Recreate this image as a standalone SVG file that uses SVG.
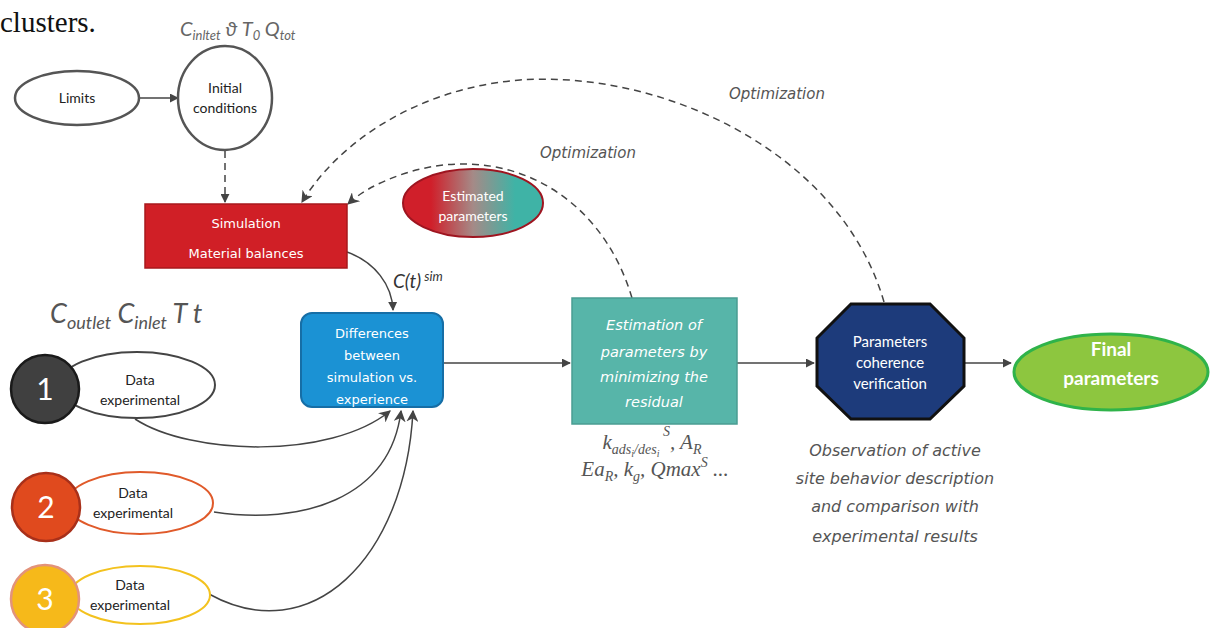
<svg xmlns="http://www.w3.org/2000/svg" width="1210" height="628" viewBox="0 0 1210 628">
  <defs>
    <marker id="arr" viewBox="0 0 10 10" refX="9" refY="5" markerWidth="9" markerHeight="9" markerUnits="userSpaceOnUse" orient="auto">
      <path d="M0,0 L10,5 L0,10 Z" fill="#444"/>
    </marker>
    <marker id="arrBig" viewBox="0 0 10 10" refX="9" refY="5" markerWidth="12" markerHeight="12" markerUnits="userSpaceOnUse" orient="auto">
      <path d="M0,0 L10,5 L0,10 L3,5 Z" fill="#444"/>
    </marker>
    <linearGradient id="estGrad" x1="0" y1="0" x2="1" y2="0">
      <stop offset="0.2" stop-color="#d01f2a"/>
      <stop offset="0.5" stop-color="#a58a87"/>
      <stop offset="0.8" stop-color="#3fb3a6"/>
    </linearGradient>
    <style>
      .lbl { font-family: "Lato", "Liberation Sans", sans-serif; fill: #222; text-anchor: middle; }
      .gothic { font-family: "DejaVu Sans", "Liberation Sans", sans-serif; text-anchor: middle; }
      .start { text-anchor: start; }
      .wt { fill: #fff; }
      .ital { font-style: italic; fill: #555; }
      .math { font-family: "Liberation Serif", serif; font-style: italic; fill: #555; text-anchor: middle; }
      .solid { fill: none; stroke: #444; stroke-width: 1.5; }
      .dash { fill: none; stroke: #444; stroke-width: 1.5; stroke-dasharray: 7 5; }
      .num { font-family: "Lato", "Liberation Sans", sans-serif; fill: #fff; font-size: 30px; text-anchor: middle; }
    </style>
  </defs>
  <rect width="1210" height="628" fill="#fff"/>

  <!-- stray body text above the figure -->
  <text x="0" y="32" font-family="Liberation Serif, serif" font-size="29" fill="#111">clusters.</text>

  <!-- variable annotations -->
  <text x="180" y="36" font-family="Lato, Liberation Sans, sans-serif" font-style="italic" font-size="20" fill="#666">C<tspan font-size="13" dy="4">inltet</tspan><tspan dy="-4"> ϑ T</tspan><tspan font-size="13" dy="4">0</tspan><tspan dy="-4"> Q</tspan><tspan font-size="13" dy="4">tot</tspan></text>
  <text x="50" y="323" font-family="Lato, Liberation Sans, sans-serif" font-style="italic" font-size="27" fill="#555">C<tspan font-size="18" dy="6">outlet</tspan><tspan dy="-6"> C</tspan><tspan font-size="18" dy="6">inlet</tspan><tspan dy="-6"> T t</tspan></text>

  <!-- connectors -->
  <g id="connectors">
    <line class="solid" x1="139" y1="98" x2="178" y2="98" marker-end="url(#arr)"/>
    <line class="dash" x1="225" y1="151" x2="225" y2="202" marker-end="url(#arr)"/>
    <path class="solid" d="M347,252 C375,262 392,285 393,310" marker-end="url(#arr)"/>
    <line class="solid" x1="443" y1="363" x2="570" y2="363" marker-end="url(#arr)"/>
    <line class="solid" x1="737" y1="363" x2="814" y2="363" marker-end="url(#arr)"/>
    <line class="solid" x1="965" y1="363" x2="1011" y2="363" marker-end="url(#arr)"/>
    <!-- optimization feedback loops -->
    <path class="dash" d="M632,298 C600,190 500,140 400,175 C375,184 360,193 348,204" marker-end="url(#arrBig)"/>
    <path class="dash" d="M884,302 C840,150 660,70 520,80 C420,88 340,140 302,202" marker-end="url(#arrBig)"/>
    <!-- experimental data into the difference block -->
    <path class="solid" d="M135,419 C190,455 330,460 390,411" marker-end="url(#arrBig)"/>
    <path class="solid" d="M214,512 C300,525 390,500 401,411" marker-end="url(#arrBig)"/>
    <path class="solid" d="M209,594 C310,650 405,560 413,411" marker-end="url(#arrBig)"/>
  </g>

  <text x="540" y="158" class="gothic ital start" font-size="15">Optimization</text>
  <text x="729" y="99" class="gothic ital start" font-size="15">Optimization</text>
  <text x="393" y="288" font-family="Lato, Liberation Sans, sans-serif" font-style="italic" font-size="19" fill="#333">C(t)<tspan font-size="13" dy="-7"> sim</tspan></text>

  <g id="limits">
    <ellipse cx="77" cy="98" rx="62" ry="27" fill="#fff" stroke="#555" stroke-width="2.5"/>
    <text x="77" y="103" class="lbl" font-size="14">Limits</text>
  </g>

  <g id="initial-conditions">
    <ellipse cx="225" cy="98" rx="47" ry="52" fill="#fff" stroke="#555" stroke-width="2.5"/>
    <text x="225" y="93" class="lbl" font-size="14">Initial</text>
    <text x="225" y="113" class="lbl" font-size="14">conditions</text>
  </g>

  <g id="simulation">
    <rect x="145" y="204" width="202" height="64" fill="#d01f26" stroke="#a8181d" stroke-width="1.5"/>
    <text x="246" y="228" class="gothic wt" font-size="13">Simulation</text>
    <text x="246" y="258" class="gothic wt" font-size="13">Material balances</text>
  </g>

  <g id="estimated-parameters">
    <ellipse cx="473" cy="203" rx="70" ry="34" fill="url(#estGrad)" stroke="#9e1520" stroke-width="2"/>
    <text x="473" y="201" class="lbl wt" font-size="14">Estimated</text>
    <text x="473" y="221" class="lbl wt" font-size="14">parameters</text>
  </g>

  <g id="differences">
    <rect x="301" y="313" width="142" height="94" rx="11" fill="#1b92d4" stroke="#166ea6" stroke-width="2"/>
    <text x="372" y="338" class="gothic wt" font-size="13">Differences</text>
    <text x="372" y="360" class="gothic wt" font-size="13">between</text>
    <text x="372" y="382" class="gothic wt" font-size="13">simulation vs.</text>
    <text x="372" y="404" class="gothic wt" font-size="13">experience</text>
  </g>

  <g id="estimation">
    <rect x="572" y="298" width="165" height="126" fill="#57b5a9" stroke="#4a9d92" stroke-width="1.5"/>
    <text x="654" y="330" class="gothic wt" font-size="14.5" font-style="italic">Estimation of</text>
    <text x="654" y="357" class="gothic wt" font-size="14.5" font-style="italic">parameters by</text>
    <text x="654" y="382" class="gothic wt" font-size="14.5" font-style="italic">minimizing  the</text>
    <text x="654" y="407" class="gothic wt" font-size="14.5" font-style="italic">residual</text>
  </g>

  <text x="652" y="449" class="math" font-size="21">k<tspan font-size="14" dy="5">ads</tspan><tspan font-size="10" dy="3">i</tspan><tspan font-size="14" dy="-3">/des</tspan><tspan font-size="10" dy="3">i</tspan><tspan font-size="14" dy="-21"> S</tspan><tspan dy="13">, A</tspan><tspan font-size="14" dy="5">R</tspan></text>
  <text x="655" y="476" class="math" font-size="21">Ea<tspan font-size="14" dy="5">R</tspan><tspan dy="-5">, k</tspan><tspan font-size="14" dy="5">g</tspan><tspan dy="-5">, Qmax</tspan><tspan font-size="14" dy="-9">S</tspan><tspan dy="9"> ...</tspan></text>

  <g id="coherence">
    <polygon points="851,304 930,304 964,338 964,386 930,419 851,419 817,386 817,338" fill="#1d3b7b" stroke="#111" stroke-width="3"/>
    <text x="890" y="347" class="lbl wt" font-size="15">Parameters</text>
    <text x="890" y="368" class="lbl wt" font-size="15">coherence</text>
    <text x="890" y="389" class="lbl wt" font-size="15">verification</text>
  </g>

  <g id="observation">
    <text x="895" y="456" class="gothic ital" font-size="16">Observation of active</text>
    <text x="895" y="484" class="gothic ital" font-size="16">site behavior description</text>
    <text x="895" y="512" class="gothic ital" font-size="16">and comparison with</text>
    <text x="895" y="542" class="gothic ital" font-size="16">experimental results</text>
  </g>

  <g id="final-parameters">
    <ellipse cx="1111" cy="372" rx="97" ry="38" fill="#8dc63f" stroke="#2fb34a" stroke-width="3"/>
    <text x="1111" y="356" class="lbl wt" font-size="19" font-weight="bold">Final</text>
    <text x="1111" y="385" class="lbl wt" font-size="19" font-weight="bold">parameters</text>
  </g>

  <g id="data-1">
    <ellipse cx="137" cy="385" rx="78" ry="33" fill="#fff" stroke="#444" stroke-width="2"/>
    <circle cx="45" cy="389" r="34" fill="#404040" stroke="#1a1a1a" stroke-width="2.5"/>
    <text x="45" y="400" class="num">1</text>
    <text x="140" y="385" class="lbl" font-size="14">Data</text>
    <text x="140" y="405" class="lbl" font-size="14">experimental</text>
  </g>

  <g id="data-2">
    <ellipse cx="140" cy="503" rx="73" ry="31" fill="#fff" stroke="#e05a2a" stroke-width="2"/>
    <circle cx="46" cy="507" r="34" fill="#e04a1e" stroke="#a8301a" stroke-width="2.5"/>
    <text x="46" y="518" class="num">2</text>
    <text x="133" y="498" class="lbl" font-size="14">Data</text>
    <text x="133" y="518" class="lbl" font-size="14">experimental</text>
  </g>

  <g id="data-3">
    <ellipse cx="140" cy="595" rx="70" ry="29" fill="#fff" stroke="#f3c21e" stroke-width="2"/>
    <circle cx="45" cy="599" r="34" fill="#f6b91a" stroke="#e3937a" stroke-width="2.5"/>
    <text x="45" y="610" class="num">3</text>
    <text x="130" y="590" class="lbl" font-size="14">Data</text>
    <text x="130" y="610" class="lbl" font-size="14">experimental</text>
  </g>
</svg>
